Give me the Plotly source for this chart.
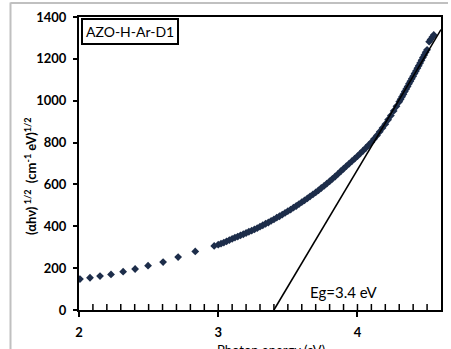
import plotly.graph_objects as go

# Sparse points (low energy)
energy_sparse = [2.007, 2.079, 2.151, 2.230, 2.317, 2.403, 2.496, 2.604, 2.712, 2.835, 2.971]
tauc_sparse = [148, 154, 162, 170, 183, 196, 212, 229, 253, 280, 306]

# Dense points (absorption edge region)
energy_dense = [3.00, 3.02, 3.04, 3.06, 3.08, 3.10, 3.12, 3.14, 3.16, 3.18,
                3.20, 3.22, 3.24, 3.26, 3.28, 3.30, 3.32, 3.34, 3.36, 3.38,
                3.40, 3.42, 3.44, 3.46, 3.48, 3.50, 3.52, 3.54, 3.56, 3.58,
                3.60, 3.62, 3.64, 3.66, 3.68, 3.70, 3.72, 3.74, 3.76, 3.78,
                3.80, 3.82, 3.84, 3.86, 3.88, 3.90, 3.92, 3.94, 3.96, 3.98,
                4.00, 4.02, 4.04, 4.06, 4.08, 4.10, 4.12, 4.14, 4.16, 4.18,
                4.20, 4.22, 4.24, 4.26, 4.28, 4.30, 4.31, 4.32, 4.33, 4.34,
                4.35, 4.36, 4.37, 4.38, 4.39, 4.40, 4.41, 4.42, 4.43, 4.44,
                4.45, 4.46, 4.47, 4.48, 4.49, 4.50, 4.515, 4.525, 4.538, 4.548]
tauc_dense = [312, 317, 322, 328, 334, 340, 346, 351, 357, 362,
              368, 374, 379, 385, 391, 398, 405, 412, 418, 426,
              433, 441, 448, 456, 464, 472, 480, 489, 497, 506,
              515, 524, 533, 543, 552, 562, 572, 583, 593, 604,
              615, 627, 638, 650, 663, 675, 687, 699, 711, 723,
              735, 748, 761, 774, 788, 802, 818, 834, 852, 870,
              888, 909, 929, 951, 973, 995, 1007, 1019, 1031, 1044,
              1056, 1068, 1081, 1093, 1105, 1117, 1130, 1142, 1155, 1167,
              1180, 1193, 1206, 1219, 1232, 1243, 1282, 1292, 1304, 1314]

# Linear fit (extrapolation to band gap)
fit_energy = [3.4, 4.6]
fit_tauc = [0, 1340]

# Minor tick positions on the energy axis
minor_ticks = [2.1, 2.2, 2.3, 2.4, 2.5, 2.6, 2.7, 2.8, 2.9, 3.0,
               3.1, 3.2, 3.3, 3.4, 3.5, 3.6, 3.7, 3.8, 3.9, 4.0,
               4.1, 4.2, 4.3, 4.4, 4.5]

marker_color = "#1d2d4a"
font_fam = "Lato, Carlito, Liberation Sans, sans-serif"

L, R, T, B = 79, 441, 17, 310
W, H = R - L, B - T


def px_x(p):
    return (p - L) / W


def px_y(p):
    return (B - p) / H


fig = go.Figure()
fig.add_trace(go.Scatter(x=energy_sparse, y=tauc_sparse, mode="markers",
                         marker=dict(symbol="diamond", size=6, color=marker_color),
                         showlegend=False))
fig.add_trace(go.Scatter(x=energy_dense, y=tauc_dense, mode="markers",
                         marker=dict(symbol="diamond", size=6, color=marker_color),
                         showlegend=False))
fig.add_trace(go.Scatter(x=fit_energy, y=fit_tauc, mode="lines",
                         line=dict(color="black", width=1.6),
                         showlegend=False))
# inside minor tick marks along the energy axis (about 2.5 px above the axis line)
tick_offset = 2.5 * 1400 / H
fig.add_trace(go.Scatter(x=minor_ticks, y=[tick_offset] * len(minor_ticks),
                         mode="markers", cliponaxis=False, hoverinfo="skip",
                         marker=dict(symbol="line-ns", size=5,
                                     line=dict(color="black", width=1.5)),
                         showlegend=False))

fig.update_layout(
    width=451, height=349,
    margin=dict(l=L, r=451 - R, t=T, b=349 - B, autoexpand=False),
    paper_bgcolor="white", plot_bgcolor="white",
    font=dict(family=font_fam, color="black"),
    xaxis=dict(range=[2, 4.6], tickmode="linear", tick0=2, dtick=1,
               ticks="outside", ticklen=5, tickwidth=1.6, tickcolor="black",
               showline=True, linecolor="black", linewidth=2, mirror=True,
               showgrid=False, zeroline=False, automargin=False,
               tickfont=dict(size=13, family=font_fam, weight="bold"),
               ticklabelstandoff=4),
    yaxis=dict(range=[0, 1400], tickmode="linear", tick0=0, dtick=200,
               ticks="outside", ticklen=4, tickwidth=1.6, tickcolor="black",
               showline=True, linecolor="black", linewidth=2, mirror=True,
               showgrid=False, zeroline=False, automargin=False,
               tickfont=dict(size=13, family=font_fam, weight="bold"),
               ticklabelstandoff=4),
)

# Outer light frame
fig.add_shape(type="line", xref="paper", yref="paper",
              x0=px_x(10.5), x1=px_x(10.5), y0=px_y(360), y1=px_y(2.5),
              line=dict(color="#c0c0c0", width=2))
fig.add_shape(type="line", xref="paper", yref="paper",
              x0=px_x(10.5), x1=px_x(448), y0=px_y(3), y1=px_y(3),
              line=dict(color="#c0c0c0", width=2))

# Sample label box
fig.add_annotation(xref="paper", yref="paper", x=px_x(81), y=px_y(18),
                   xanchor="left", yanchor="top", showarrow=False,
                   text="AZO-H-Ar-D1", font=dict(size=14, family=font_fam, color="black"),
                   bordercolor="black", borderwidth=2, borderpad=3, bgcolor="white")

# Band gap label
fig.add_annotation(x=3.9, y=86, xref="x", yref="y", showarrow=False,
                   xanchor="center", yanchor="middle",
                   text="Eg=3.4 eV", font=dict(size=15, family=font_fam, color="black"))

# Axis titles
fig.add_annotation(xref="paper", yref="paper", x=px_x(30), y=px_y(176),
                   xanchor="center", yanchor="middle", textangle=-90, showarrow=False,
                   text="(αhν)<sup> 1/2</sup>  (cm<sup>-1</sup> eV)<sup>1/2</sup>",
                   font=dict(size=13, family=font_fam, color="black", weight="bold"))
fig.add_annotation(xref="paper", yref="paper", x=px_x(271), y=px_y(350),
                   xanchor="center", yanchor="middle", showarrow=False,
                   text="Photon energy (eV)",
                   font=dict(size=13, family=font_fam, color="black"))

fig.write_html("out.html", config={"displayModeBar": False},
               post_script="document.body.style.margin='0';document.body.style.overflow='hidden';")
